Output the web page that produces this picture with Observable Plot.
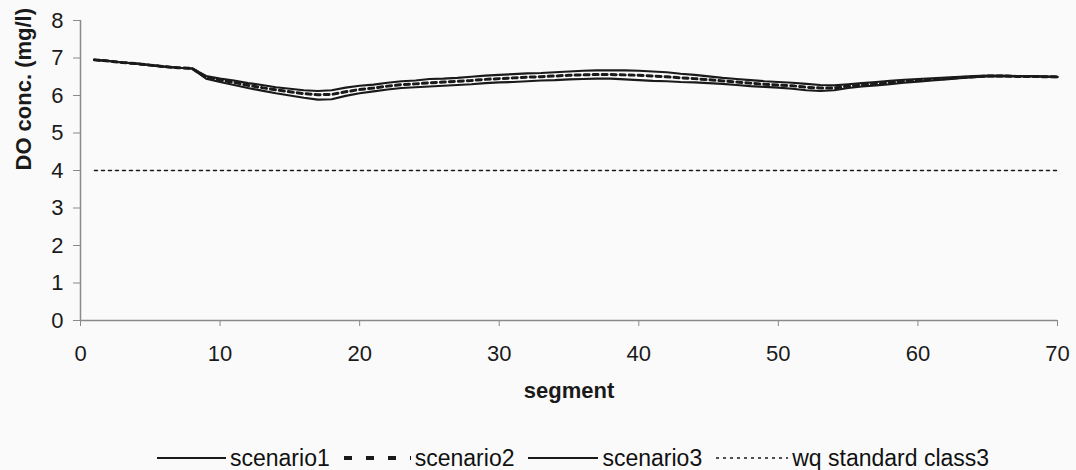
<!DOCTYPE html>
<html>
<head>
<meta charset="utf-8">
<script src="https://cdn.jsdelivr.net/npm/d3@7"></script>
<script src="https://cdn.jsdelivr.net/npm/@observablehq/plot@0.6"></script>
<style>
  html, body { margin: 0; padding: 0; background: #fafafa; }
  #chart { width: 1076px; height: 420px; }
  #chart svg [aria-label="x-axis tick label"],
  #chart svg [aria-label="y-axis tick label"] { font-size: 22px; }
  #legend {
    display: flex; align-items: center; height: 40px; padding-top: 18px;
    margin-left: 157px; font-family: "Liberation Sans", Arial, sans-serif;
    font-size: 23px; color: #111;
  }
  #legend .item { display: flex; align-items: center; margin-right: 14px; }
  #legend svg { margin-right: 4px; }
</style>
</head>
<body>
<div id="chart"></div>
<div id="legend"></div>
<script>
// River segments along the modelled reach
const segments = d3.range(1, 71);

// Dissolved oxygen (mg/l) per segment for each scenario
const scenario1 = [
  6.95, 6.92, 6.88, 6.85, 6.81, 6.77, 6.74, 6.72, 6.52, 6.45,
  6.40, 6.33, 6.28, 6.22, 6.18, 6.14, 6.12, 6.14, 6.21, 6.26,
  6.29, 6.34, 6.38, 6.40, 6.44, 6.45, 6.47, 6.50, 6.53, 6.55,
  6.57, 6.59, 6.60, 6.62, 6.64, 6.66, 6.67, 6.67, 6.67, 6.66,
  6.64, 6.62, 6.58, 6.55, 6.51, 6.47, 6.44, 6.41, 6.38, 6.36,
  6.34, 6.31, 6.28, 6.27, 6.30, 6.33, 6.36, 6.39, 6.42, 6.44,
  6.46, 6.48, 6.50, 6.52, 6.53, 6.53, 6.52, 6.52, 6.51, 6.50
];
const scenario2 = [
  6.95, 6.92, 6.88, 6.85, 6.81, 6.77, 6.74, 6.72, 6.49, 6.41,
  6.35, 6.27, 6.21, 6.15, 6.10, 6.05, 6.02, 6.03, 6.10, 6.16,
  6.20, 6.25, 6.29, 6.31, 6.34, 6.36, 6.38, 6.40, 6.43, 6.45,
  6.47, 6.49, 6.50, 6.52, 6.54, 6.55, 6.56, 6.56, 6.55, 6.54,
  6.52, 6.50, 6.47, 6.45, 6.42, 6.39, 6.36, 6.33, 6.30, 6.28,
  6.26, 6.22, 6.20, 6.20, 6.25, 6.28, 6.31, 6.34, 6.38, 6.40,
  6.43, 6.45, 6.48, 6.50, 6.52, 6.52, 6.51, 6.51, 6.50, 6.50
];
const scenario3 = [
  6.95, 6.92, 6.88, 6.85, 6.81, 6.77, 6.74, 6.72, 6.45, 6.36,
  6.28, 6.20, 6.13, 6.06, 6.00, 5.94, 5.89, 5.90, 5.99, 6.06,
  6.11, 6.16, 6.20, 6.22, 6.24, 6.26, 6.28, 6.30, 6.33, 6.35,
  6.36, 6.38, 6.40, 6.41, 6.43, 6.44, 6.45, 6.45, 6.43, 6.41,
  6.39, 6.38, 6.36, 6.35, 6.33, 6.31, 6.28, 6.25, 6.23, 6.21,
  6.18, 6.14, 6.12, 6.14, 6.20, 6.24, 6.27, 6.30, 6.34, 6.37,
  6.40, 6.43, 6.46, 6.49, 6.51, 6.51, 6.51, 6.51, 6.50, 6.49
];
// Water-quality standard for class 3 waters
const standardClass3 = 4;

const seriesNames = ["scenario1", "scenario2", "scenario3", "wq standard class3"];
const xTicks = [0, 10, 20, 30, 40, 50, 60, 70];
const yTicks = [0, 1, 2, 3, 4, 5, 6, 7, 8];

const rows = (values) => segments.map((s, i) => ({segment: s, value: values[i]}));
const standardRows = segments.map((s) => ({segment: s, value: standardClass3}));

const ink = "#1a1a1a";
const axisGrey = "#8a8a8a";
const font = "'Liberation Sans', Arial, sans-serif";

const chart = Plot.plot({
  width: 1076,
  height: 420,
  marginLeft: 80,
  marginRight: 19,
  marginTop: 20,
  marginBottom: 100,
  style: {background: "#fafafa", fontFamily: font, fontSize: "22px", color: ink},
  x: {domain: [0, 70]},
  y: {domain: [0, 8]},
  marks: [
    Plot.axisY({ticks: yTicks, tickSize: 7, tickPadding: 10, stroke: axisGrey, fill: ink, label: null, fontSize: 22}),
    Plot.axisX({ticks: xTicks, tickSize: 6, tickPadding: 19, stroke: axisGrey, fill: ink, label: null, fontSize: 22}),
    Plot.ruleX([0], {stroke: axisGrey, strokeWidth: 1.5}),
    Plot.ruleY([0], {stroke: axisGrey, strokeWidth: 1.5}),
    Plot.text(["DO conc. (mg/l)"], {frameAnchor: "left", dx: -57, rotate: -90, fontWeight: "bold", fontSize: 22, fill: ink}),
    Plot.text(["segment"], {frameAnchor: "bottom", dy: 77, fontWeight: "bold", fontSize: 22, fill: ink}),
    Plot.lineY(standardRows, {x: "segment", y: "value", stroke: ink, strokeWidth: 1.5, strokeDasharray: "3,4"}),
    Plot.lineY(rows(scenario3), {x: "segment", y: "value", stroke: ink, strokeWidth: 2.2}),
    Plot.lineY(rows(scenario2), {x: "segment", y: "value", stroke: ink, strokeWidth: 3, strokeDasharray: "5,4"}),
    Plot.lineY(rows(scenario1), {x: "segment", y: "value", stroke: ink, strokeWidth: 2.2})
  ]
});
document.getElementById("chart").appendChild(chart);

// Legend with a line sample for each series
const samples = [
  {len: 69, width: 2, dash: null},
  {len: 67, width: 4, dash: "8,14"},
  {len: 70, width: 2, dash: null},
  {len: 72, width: 1.5, dash: "3,4"}
];
const legend = d3.select("#legend");
seriesNames.forEach((name, i) => {
  const item = legend.append("div").attr("class", "item");
  const s = samples[i];
  const svg = item.append("svg").attr("width", s.len).attr("height", 10);
  svg.append("line")
    .attr("x1", 0).attr("x2", s.len).attr("y1", 5).attr("y2", 5)
    .attr("stroke", ink).attr("stroke-width", s.width)
    .attr("stroke-dasharray", s.dash);
  item.append("span").text(name);
});
</script>
</body>
</html>
